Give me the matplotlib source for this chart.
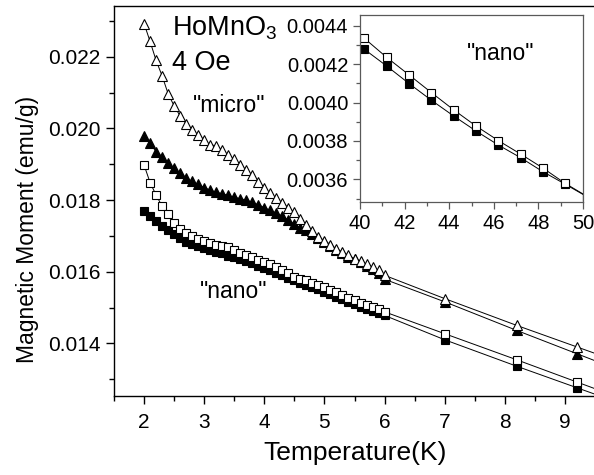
import matplotlib
matplotlib.use('Agg')
import matplotlib.pyplot as plt
from matplotlib.ticker import MultipleLocator, FormatStrFormatter

plt.rcParams['font.family'] = ['Liberation Sans', 'DejaVu Sans']
plt.rcParams['mathtext.fontset'] = 'custom'
plt.rcParams['mathtext.rm'] = 'Liberation Sans'

# main panel: temperature (K)
temp = [2.0, 2.1, 2.2, 2.3, 2.4, 2.5, 2.6, 2.7, 2.8, 2.9,
        3.0, 3.1, 3.2, 3.3, 3.4, 3.5, 3.6, 3.7, 3.8, 3.9,
        4.0, 4.1, 4.2, 4.3, 4.4, 4.5, 4.6, 4.7, 4.8, 4.9,
        5.0, 5.1, 5.2, 5.3, 5.4, 5.5, 5.6, 5.7, 5.8, 5.9,
        6.0, 7.0, 8.2, 9.2, 10.2]

micro_open = [0.02293, 0.02243, 0.02190, 0.02147, 0.02097, 0.02063, 0.02035, 0.02013, 0.01996, 0.01982,
              0.01968, 0.01954, 0.01952, 0.01940, 0.01926, 0.01914, 0.01899, 0.01884, 0.01870, 0.01851,
              0.01833, 0.01819, 0.01805, 0.01792, 0.01779, 0.01766, 0.01747, 0.01730, 0.01713, 0.01697,
              0.01687, 0.01676, 0.01664, 0.01655, 0.01646, 0.01636, 0.01629, 0.01622, 0.01613, 0.01604,
              0.01590, 0.01525, 0.01450, 0.01390, 0.01330]

micro_full = [0.01979, 0.01959, 0.01935, 0.01921, 0.01903, 0.01889, 0.01875, 0.01863, 0.01852, 0.01844,
              0.01835, 0.01828, 0.01822, 0.01818, 0.01813, 0.01808, 0.01804, 0.01800, 0.01794, 0.01787,
              0.01779, 0.01771, 0.01764, 0.01755, 0.01744, 0.01733, 0.01723, 0.01716, 0.01706, 0.01694,
              0.01683, 0.01671, 0.01662, 0.01652, 0.01642, 0.01635, 0.01627, 0.01617, 0.01607, 0.01597,
              0.01579, 0.01516, 0.01436, 0.01371, 0.01306]

nano_open = [0.01898, 0.01849, 0.01814, 0.01783, 0.01761, 0.01736, 0.01718, 0.01708, 0.01699, 0.01691,
             0.01686, 0.01681, 0.01676, 0.01671, 0.01669, 0.01660, 0.01653, 0.01648, 0.01641, 0.01634,
             0.01628, 0.01621, 0.01613, 0.01606, 0.01596, 0.01585, 0.01581, 0.01576, 0.01569, 0.01562,
             0.01556, 0.01550, 0.01543, 0.01534, 0.01527, 0.01520, 0.01513, 0.01508, 0.01502, 0.01497,
             0.01488, 0.01427, 0.01354, 0.01292, 0.01230]

nano_full = [0.01770, 0.01755, 0.01742, 0.01727, 0.01716, 0.01705, 0.01693, 0.01683, 0.01677, 0.01671,
             0.01665, 0.01660, 0.01655, 0.01651, 0.01645, 0.01640, 0.01635, 0.01629, 0.01623, 0.01616,
             0.01611, 0.01604, 0.01597, 0.01590, 0.01583, 0.01576, 0.01569, 0.01564, 0.01557, 0.01551,
             0.01544, 0.01537, 0.01530, 0.01523, 0.01516, 0.01509, 0.01502, 0.01497, 0.01491, 0.01485,
             0.01478, 0.01410, 0.01336, 0.01276, 0.01216]

# inset: nano sample, 40-50 K
temp_inset = [40.2, 41.2, 42.2, 43.2, 44.2, 45.2, 46.2, 47.2, 48.2, 49.2, 50.2]
inset_open = [0.004334, 0.004235, 0.004144, 0.004052, 0.003962, 0.003878,
              0.003802, 0.003732, 0.003659, 0.003579, 0.003510]
inset_full = [0.004277, 0.004190, 0.004099, 0.004012, 0.003930, 0.003852,
              0.003779, 0.003713, 0.003640, 0.003575, 0.003508]

W, H = 594, 475
fig = plt.figure(figsize=(W / 100, H / 100), dpi=100)

ax = fig.add_axes([114 / W, 1 - 396 / H, 481 / W, 390 / H])
line_kw = dict(color='black', lw=0.7, mew=0.8, mec='black')
ax.plot(temp, micro_full, marker='^', ms=7.5, mfc='black', **line_kw)
ax.plot(temp, micro_open, marker='^', ms=7.5, mfc='white', **line_kw)
ax.plot(temp, nano_full, marker='s', ms=5.8, mfc='black', **line_kw)
ax.plot(temp, nano_open, marker='s', ms=5.8, mfc='white', **line_kw)

ax.set_xlim(1.5, 9.5)
ax.set_ylim(0.01253, 0.02342)
ax.xaxis.set_major_locator(MultipleLocator(1))
ax.xaxis.set_minor_locator(MultipleLocator(0.5))
ax.yaxis.set_major_locator(MultipleLocator(0.002))
ax.yaxis.set_minor_locator(MultipleLocator(0.001))
ax.yaxis.set_major_formatter(FormatStrFormatter('%.3f'))
ax.tick_params(which='both', direction='out', labelsize=15, top=False, right=False)
ax.tick_params(which='major', length=6, width=1)
ax.tick_params(which='minor', length=3.5, width=1)
ax.tick_params(axis='x', pad=6)
for s in ax.spines.values():
    s.set_linewidth(1.0)

fig.text(355 / W, 1 - 453 / H, 'Temperature(K)', fontsize=19, ha='center', va='center')
fig.text(28 / W, 1 - 229 / H, 'Magnetic Moment (emu/g)', fontsize=16.5,
         rotation=90, ha='center', va='center')

fig.text(172 / W, 1 - 28 / H, r'HoMnO$_3$', fontsize=19.5, va='center', ha='left')
fig.text(172 / W, 1 - 63 / H, '4 Oe', fontsize=19.5, va='center', ha='left')
fig.text(229 / W, 1 - 106 / H, '"micro"', fontsize=16.5, va='center', ha='center')
fig.text(234 / W, 1 - 292 / H, '"nano"', fontsize=16.5, va='center', ha='center')

# inset
ins = fig.add_axes([360 / W, 1 - 202 / H, 223 / W, 187 / H])
ins.plot(temp_inset, inset_full, marker='s', ms=6, mfc='black', **line_kw)
ins.plot(temp_inset, inset_open, marker='s', ms=6, mfc='white', **line_kw)
ins.set_xlim(40, 50)
ins.set_ylim(0.003482, 0.004456)
ins.xaxis.set_major_locator(MultipleLocator(2))
ins.xaxis.set_minor_locator(MultipleLocator(1))
ins.yaxis.set_major_locator(MultipleLocator(0.0002))
ins.yaxis.set_minor_locator(MultipleLocator(0.0001))
ins.yaxis.set_major_formatter(FormatStrFormatter('%.4f'))
ins.tick_params(which='both', direction='out', labelsize=14.5, color='0.35')
ins.tick_params(which='major', length=5, width=0.9)
ins.tick_params(which='minor', length=3, width=0.9)
for s in ins.spines.values():
    s.set_linewidth(0.9)
    s.set_color('0.35')
fig.text(501 / W, 1 - 53 / H, '"nano"', fontsize=16.5, va='center', ha='center')

fig.savefig('out.png', dpi=100)
